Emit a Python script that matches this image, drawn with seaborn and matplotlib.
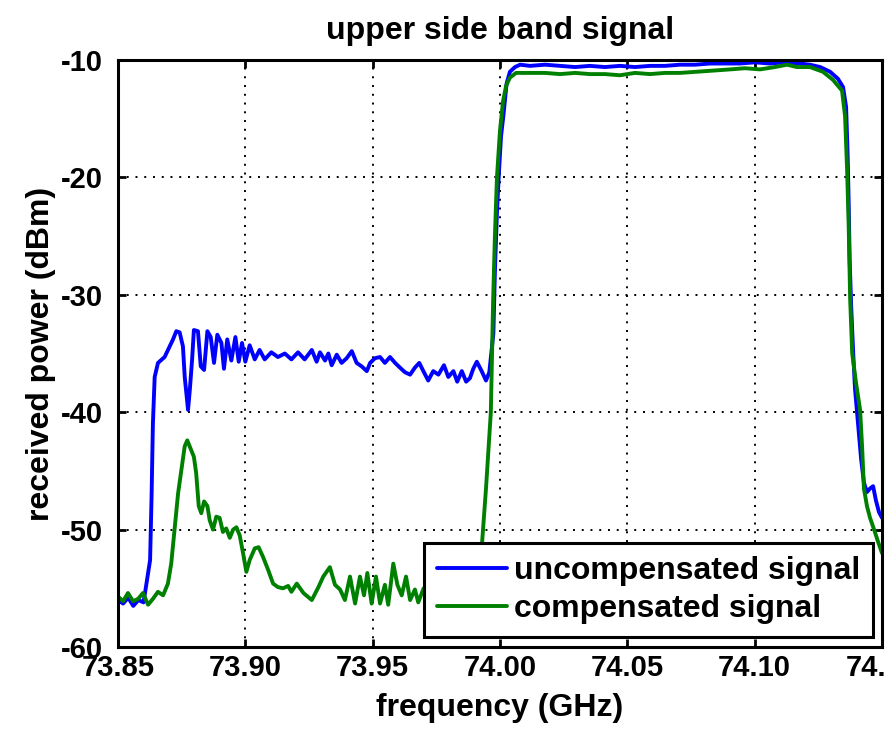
import matplotlib
matplotlib.use("Agg")
import matplotlib.pyplot as plt
import seaborn as sns
import pandas as pd

# ---- data ----
freq_unc = [73.8500, 73.8520, 73.8540, 73.8560, 73.8580, 73.8600, 73.8606, 73.8626, 73.8632, 73.8637,
            73.8644, 73.8657, 73.8683, 73.8703, 73.8716, 73.8729, 73.8742, 73.8755, 73.8762, 73.8775,
            73.8782, 73.8791, 73.8798, 73.8814, 73.8825, 73.8838, 73.8851, 73.8864, 73.8877, 73.8890,
            73.8906, 73.8916, 73.8929, 73.8945, 73.8961, 73.8974, 73.8987, 73.9000, 73.9017, 73.9037,
            73.9056, 73.9076, 73.9102, 73.9128, 73.9155, 73.9181, 73.9207, 73.9233, 73.9261, 73.9280,
            73.9293, 73.9313, 73.9326, 73.9339, 73.9359, 73.9378, 73.9398, 73.9418, 73.9437, 73.9457,
            73.9477, 73.9490, 73.9509, 73.9529, 73.9548, 73.9568, 73.9588, 73.9607, 73.9627, 73.9647,
            73.9666, 73.9683, 73.9699, 73.9718, 73.9738, 73.9758, 73.9780, 73.9797, 73.9817, 73.9832,
            73.9850, 73.9867, 73.9882, 73.9895, 73.9909, 73.9928, 73.9945, 73.9958, 73.9967, 73.9974,
            73.9980, 73.9988, 73.9996, 74.0004, 74.0013, 74.0026, 74.0039, 74.0059, 74.0079, 74.0118,
            74.0177, 74.0236, 74.0295, 74.0353, 74.0412, 74.0471, 74.0530, 74.0589, 74.0648, 74.0707,
            74.0766, 74.0825, 74.0884, 74.0942, 74.1001, 74.1060, 74.1119, 74.1178, 74.1217, 74.1257,
            74.1296, 74.1327, 74.1347, 74.1359, 74.1365, 74.1369, 74.1373, 74.1379, 74.1387, 74.1394,
            74.1406, 74.1418, 74.1429, 74.1441, 74.1453, 74.1465, 74.1476, 74.1488, 74.1500]
power_unc = [-56.0, -56.3, -55.8, -56.5, -56.0, -56.2, -55.4, -52.6, -47.0, -41.0,
             -37.0, -35.8, -35.3, -34.4, -33.8, -33.1, -33.2, -34.4, -37.0, -39.8,
             -38.1, -35.5, -33.0, -33.1, -36.1, -36.4, -33.1, -33.6, -35.8, -33.4,
             -34.1, -36.3, -33.8, -35.6, -33.6, -35.7, -34.1, -35.7, -34.3, -35.5,
             -34.7, -35.5, -34.9, -35.3, -35.0, -35.5, -34.9, -35.5, -34.7, -35.7,
             -34.9, -35.6, -35.0, -36.0, -35.1, -35.8, -35.4, -34.8, -35.8, -36.1,
             -36.5, -35.8, -35.4, -35.3, -35.8, -35.3, -35.8, -36.2, -36.6, -36.8,
             -36.2, -35.8, -36.5, -37.3, -36.5, -36.8, -36.0, -37.0, -36.5, -37.4,
             -36.5, -37.4, -37.1, -36.3, -35.7, -36.5, -37.3, -36.6, -34.7, -33.3,
             -28.0, -23.0, -19.5, -16.5, -14.8, -12.0, -11.0, -10.6, -10.4, -10.5,
             -10.4, -10.5, -10.6, -10.5, -10.6, -10.5, -10.6, -10.5, -10.5, -10.4,
             -10.4, -10.3, -10.3, -10.3, -10.2, -10.3, -10.2, -10.3, -10.4, -10.6,
             -11.0, -11.6, -12.3, -14.0, -18.0, -22.0, -27.0, -31.0, -35.0, -38.0,
             -41.0, -44.0, -46.0, -46.8, -46.5, -46.3, -47.5, -48.5, -49.0]

freq_comp = [73.8500, 73.8520, 73.8539, 73.8559, 73.8579, 73.8598, 73.8618, 73.8637, 73.8657, 73.8677,
             73.8696, 73.8709, 73.8723, 73.8736, 73.8749, 73.8762, 73.8772, 73.8785, 73.8798, 73.8807,
             73.8817, 73.8827, 73.8838, 73.8851, 73.8860, 73.8873, 73.8886, 73.8899, 73.8912, 73.8925,
             73.8939, 73.8952, 73.8965, 73.8978, 73.8991, 73.9004, 73.9017, 73.9037, 73.9052, 73.9069,
             73.9089, 73.9109, 73.9128, 73.9148, 73.9168, 73.9181, 73.9202, 73.9228, 73.9261, 73.9287,
             73.9306, 73.9332, 73.9352, 73.9372, 73.9391, 73.9411, 73.9431, 73.9450, 73.9466, 73.9479,
             73.9496, 73.9513, 73.9529, 73.9548, 73.9561, 73.9581, 73.9597, 73.9614, 73.9631, 73.9647,
             73.9666, 73.9679, 73.9700, 73.9720, 73.9740, 73.9760, 73.9780, 73.9800, 73.9820, 73.9840,
             73.9914, 73.9929, 73.9945, 73.9964, 73.9973, 73.9980, 73.9988, 74.0000, 74.0012, 74.0024,
             74.0039, 74.0063, 74.0118, 74.0177, 74.0236, 74.0295, 74.0353, 74.0412, 74.0471, 74.0530,
             74.0589, 74.0648, 74.0707, 74.0774, 74.0845, 74.0904, 74.0962, 74.1021, 74.1080, 74.1127,
             74.1166, 74.1217, 74.1268, 74.1308, 74.1327, 74.1343, 74.1355, 74.1363, 74.1369, 74.1375,
             74.1383, 74.1398, 74.1414, 74.1422, 74.1429, 74.1441, 74.1453, 74.1469, 74.1484, 74.1500]
power_comp = [-55.7, -56.1, -55.4, -56.1, -55.9, -55.4, -56.4, -55.9, -55.3, -55.6,
              -54.6, -52.9, -49.8, -46.9, -44.9, -42.9, -42.4, -43.1, -43.8, -45.2,
              -48.0, -48.6, -47.6, -48.0, -49.2, -50.0, -48.9, -49.0, -50.2, -49.9,
              -50.7, -50.0, -49.8, -50.5, -52.0, -53.6, -52.6, -51.6, -51.5, -52.3,
              -53.4, -54.6, -54.9, -55.0, -54.8, -55.3, -54.6, -55.4, -56.0, -54.9,
              -54.0, -53.2, -54.7, -55.1, -56.0, -54.0, -56.3, -54.0, -55.6, -53.7,
              -56.3, -54.0, -56.3, -54.7, -56.4, -52.9, -54.7, -55.6, -54.0, -56.0,
              -55.1, -56.2, -55.0, -56.0, -54.5, -55.8, -54.8, -56.0, -55.2, -56.2,
              -55.5, -51.3, -46.5, -40.0, -30.5, -25.0, -20.0, -16.0, -13.5, -12.2,
              -11.5, -11.1, -11.1, -11.1, -11.2, -11.1, -11.2, -11.2, -11.3, -11.1,
              -11.2, -11.1, -11.1, -11.0, -10.9, -10.8, -10.7, -10.8, -10.6, -10.4,
              -10.6, -10.6, -11.0, -11.7, -12.2, -12.6, -14.8, -19.4, -24.0, -30.4,
              -35.0, -37.5, -39.8, -43.0, -46.5, -48.0, -49.0, -50.0, -51.0, -52.0]

series_names = ["uncompensated signal", "compensated signal"]
series_colors = ["#0000ff", "#008000"]
x_ticks = [73.85, 73.90, 73.95, 74.00, 74.05, 74.10, 74.15]
x_tick_labels = ["73.85", "73.90", "73.95", "74.00", "74.05", "74.10", "74.15"]
y_ticks = [-60, -50, -40, -30, -20, -10]

df = pd.concat([
    pd.DataFrame({"freq": freq_unc, "power": power_unc, "series": series_names[0]}),
    pd.DataFrame({"freq": freq_comp, "power": power_comp, "series": series_names[1]}),
], ignore_index=True)

sns.set_theme(style="white")
plt.rcParams["font.family"] = ["Liberation Sans", "DejaVu Sans"]
plt.rcParams["font.weight"] = "bold"
plt.rcParams["axes.unicode_minus"] = False
plt.rcParams["text.color"] = "black"
plt.rcParams["axes.labelcolor"] = "black"
plt.rcParams["legend.labelcolor"] = "black"

fig = plt.figure(figsize=(8.85, 7.35), dpi=100)
ax = fig.add_axes([118 / 885, 88 / 735, 764 / 885, 587 / 735])

sns.lineplot(data=df, x="freq", y="power", hue="series", hue_order=series_names,
             palette=dict(zip(series_names, series_colors)), estimator=None, sort=False,
             linewidth=2.8, ax=ax, legend=True)

ax.set_xlim(73.85, 74.15)
ax.set_ylim(-60, -10)
ax.set_xticks(x_ticks)
ax.set_xticklabels(x_tick_labels)
ax.set_yticks(y_ticks)

ax.grid(True, color="black", linestyle=(0, (1, 3.5)), linewidth=1.4)
for s in ax.spines.values():
    s.set_color("black")
    s.set_linewidth(2.2)
    s.set_visible(True)

ax.tick_params(axis="both", which="major", direction="in", length=6, width=2,
               colors="black", labelsize=21, top=True, right=True, bottom=True, left=True)
ax.tick_params(axis="x", pad=5)
ax.tick_params(axis="y", pad=11)
for lab in ax.get_xticklabels() + ax.get_yticklabels():
    lab.set_fontweight("bold")

ax.set_title("upper side band signal", fontsize=23, fontweight="bold", pad=15, color="black")
ax.set_xlabel("frequency (GHz)", fontsize=23, fontweight="bold", color="black")
ax.set_ylabel("received power (dBm)", fontsize=23, fontweight="bold", color="black")
ax.xaxis.set_label_coords(0.5, -0.078)
ax.yaxis.set_label_coords(-0.081, 0.5)

handles, labels = ax.get_legend_handles_labels()
leg = ax.legend(handles, labels, loc="lower right", bbox_to_anchor=(0.988, 0.017),
                borderaxespad=0, fontsize=23, frameon=True, fancybox=False,
                framealpha=1, edgecolor="black", handlelength=2.2, handletextpad=0.2,
                borderpad=0.4, labelspacing=0.25)
leg.get_frame().set_linewidth(2.2)
for t in leg.get_texts():
    t.set_fontweight("bold")
    t.set_color("black")
for l in leg.get_lines():
    l.set_linewidth(2.8)

fig.savefig("out.png", dpi=100, facecolor="white")
